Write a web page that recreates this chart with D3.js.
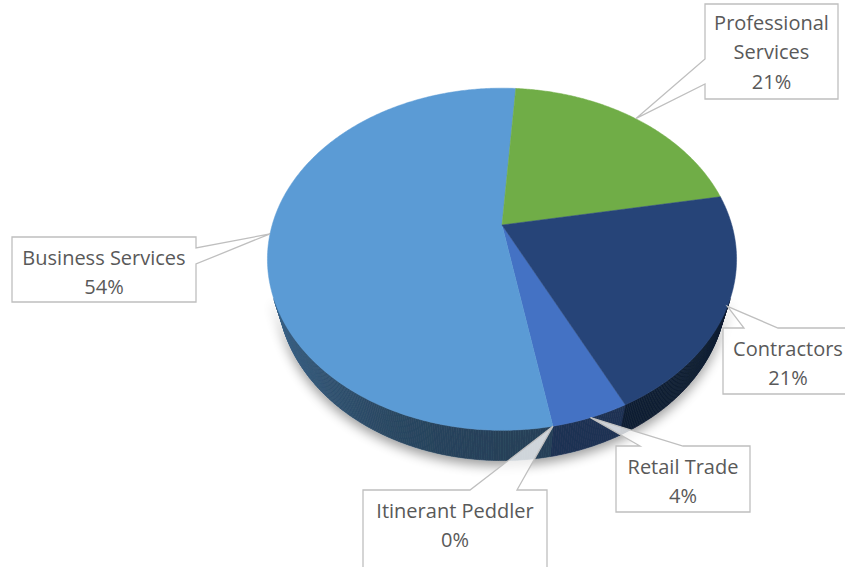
<!DOCTYPE html>
<html>
<head>
<meta charset="utf-8">
<script src="https://cdn.jsdelivr.net/npm/d3@7"></script>
<style>
  body { margin: 0; background: #fff; }
  svg { display: block; }
  .callout-text { font-family: "Open Sans", Lato, sans-serif; font-size: 20px; fill: #595959; }
</style>
</head>
<body>
<div id="chart"></div>
<script>
// slices in the order they are drawn clockwise
const categories = ["Retail Trade", "Itinerant Peddler", "Business Services", "Professional Services", "Contractors"];
const shares = [4.4, 0, 54.0, 21.0, 20.6];
const sliceColors = ["#4472C4", "#A5A5A5", "#5B9BD5", "#70AD47", "#264478"];

const width = 845, height = 567;

// 3d pie geometry (radius = 1 in world units)
const cfg = {
  cx: 502, cy: 225,
  tilt: 45.6 * Math.PI / 180,
  thick: 0.215,
  focal: 804,
  startDeg: 153.9
};
const sinT = Math.sin(cfg.tilt), cosT = Math.cos(cfg.tilt);
const dist = 5 * cosT;

// callout boxes: layout only
const boxes = [
  {x: 616, y: 446, w: 134, h: 66, side: 'top', a: 640, b: 683},
  {x: 363, y: 490, w: 184, h: 90, side: 'top', a: 470, b: 517},
  {x: 12, y: 237, w: 184, h: 65, side: 'right', a: 248, b: 264},
  {x: 705, y: 4, w: 133, h: 95, side: 'left', a: 59, b: 84},
  {x: 723, y: 328, w: 130, h: 66, side: 'top', a: 744, b: 778}
];

// theta measured clockwise from the back of the pie, h in [0,1] from top to bottom face
function project(theta, h, r = 1) {
  const X = r * Math.sin(theta);
  const Z = -r * Math.cos(theta);
  const Y = -h * cfg.thick;
  const up = Y * cosT - Z * sinT;
  const d = dist - (Y * sinT + Z * cosT);
  return [cfg.cx + cfg.focal * X / d, cfg.cy - cfg.focal * up / d];
}

const svg = d3.select('#chart').append('svg')
    .attr('width', width)
    .attr('height', height);

const defs = svg.append('defs');
const shadow = defs.append('filter').attr('id', 'pie-shadow')
    .attr('x', '-20%').attr('y', '-20%').attr('width', '140%').attr('height', '150%');
shadow.append('feGaussianBlur').attr('in', 'SourceAlpha').attr('stdDeviation', 6);
shadow.append('feOffset').attr('dy', 5).attr('result', 'blur');
shadow.append('feComponentTransfer').append('feFuncA').attr('type', 'linear').attr('slope', 0.4);
const merge = shadow.append('feMerge');
merge.append('feMergeNode');
merge.append('feMergeNode').attr('in', 'SourceGraphic');

const start = cfg.startDeg * Math.PI / 180;
const pie = d3.pie().sort(null).value(d => d)
    .startAngle(start).endAngle(start + 2 * Math.PI);
const arcs = pie(shares).map((a, i) => ({...a, name: categories[i], color: sliceColors[i], box: boxes[i]}));
const total = d3.sum(shares);

const pieG = svg.append('g');
const wallG = pieG.append('g').attr('filter', 'url(#pie-shadow)');

// outer wall, only the part that faces the camera
const limit = -1 / (dist * cosT);
const step = Math.PI / 360;
const quads = [];
arcs.forEach(a => {
  for (let t = a.startAngle; t < a.endAngle - 1e-9; t += step) {
    const t1 = Math.min(t + step, a.endAngle);
    const tm = (t + t1) / 2;
    if (Math.cos(tm) >= limit) continue;
    const s = Math.max(0, -Math.sin(tm));
    const k = 0.42 + 0.25 * s * s;
    const c = d3.rgb(a.color);
    const fill = d3.rgb(c.r * k, c.g * k, c.b * k).formatHex();
    quads.push({pts: [project(t, 0), project(t1, 0), project(t1, 1), project(t, 1)], fill, depth: -Math.cos(tm)});
  }
});
quads.sort((p, q) => p.depth - q.depth);
wallG.selectAll('path.wall')
  .data(quads)
  .join('path')
    .attr('class', 'wall')
    .attr('d', d => 'M' + d.pts.join('L') + 'Z')
    .attr('fill', d => d.fill)
    .attr('stroke', d => d.fill)
    .attr('stroke-width', 0.6);

// top faces
pieG.selectAll('path.top')
  .data(arcs.filter(a => a.value > 0))
  .join('path')
    .attr('class', 'top')
    .attr('d', a => {
      const n = Math.max(2, Math.ceil((a.endAngle - a.startAngle) / step));
      const pts = d3.range(n + 1).map(j => project(a.startAngle + (a.endAngle - a.startAngle) * j / n, 0));
      return 'M' + [cfg.cx, cfg.cy] + 'L' + pts.join('L') + 'Z';
    })
    .attr('fill', a => a.color)
    .attr('stroke', a => a.color)
    .attr('stroke-width', 0.5);

// callouts
function calloutPath(b, tip) {
  const {x, y, w, h} = b;
  const r = x + w, btm = y + h;
  let p;
  if (b.side === 'top') {
    p = [[x, y], [b.a, y], tip, [b.b, y], [r, y], [r, btm], [x, btm]];
  } else if (b.side === 'left') {
    p = [[x, y], [r, y], [r, btm], [x, btm], [x, b.b], tip, [x, b.a]];
  } else {
    p = [[x, y], [r, y], [r, b.a], tip, [r, b.b], [r, btm], [x, btm]];
  }
  return 'M' + p.join('L') + 'Z';
}

const labelG = svg.append('g');
arcs.forEach(a => {
  const mid = (a.startAngle + a.endAngle) / 2;
  const tip = project(mid, 0);
  const b = a.box;
  labelG.append('path')
      .attr('d', calloutPath(b, tip))
      .attr('fill', '#fff')
      .attr('fill-opacity', 0.78)
      .attr('stroke', '#bfbfbf')
      .attr('stroke-width', 1.3);

  // wrap the category name to the box width
  const lines = [];
  const probe = labelG.append('text').attr('class', 'callout-text');
  let cur = '';
  a.name.split(' ').forEach(word => {
    const trial = cur ? cur + ' ' + word : word;
    probe.text(trial);
    if (cur && probe.node().getComputedTextLength() > b.w + 4) {
      lines.push(cur);
      cur = word;
    } else {
      cur = trial;
    }
  });
  lines.push(cur);
  probe.remove();
  lines.push(Math.round(a.value / total * 100) + '%');

  const lineH = 29.5;
  const cxText = b.x + b.w / 2;
  const firstY = b.side === 'left' ? b.y + 18 : b.y + 20;
  labelG.append('text')
      .attr('class', 'callout-text')
      .attr('text-anchor', 'middle')
    .selectAll('tspan')
    .data(lines)
    .join('tspan')
      .attr('x', cxText)
      .attr('y', (d, i) => firstY + i * lineH)
      .attr('dominant-baseline', 'central')
      .text(d => d);
});
</script>
</body>
</html>
